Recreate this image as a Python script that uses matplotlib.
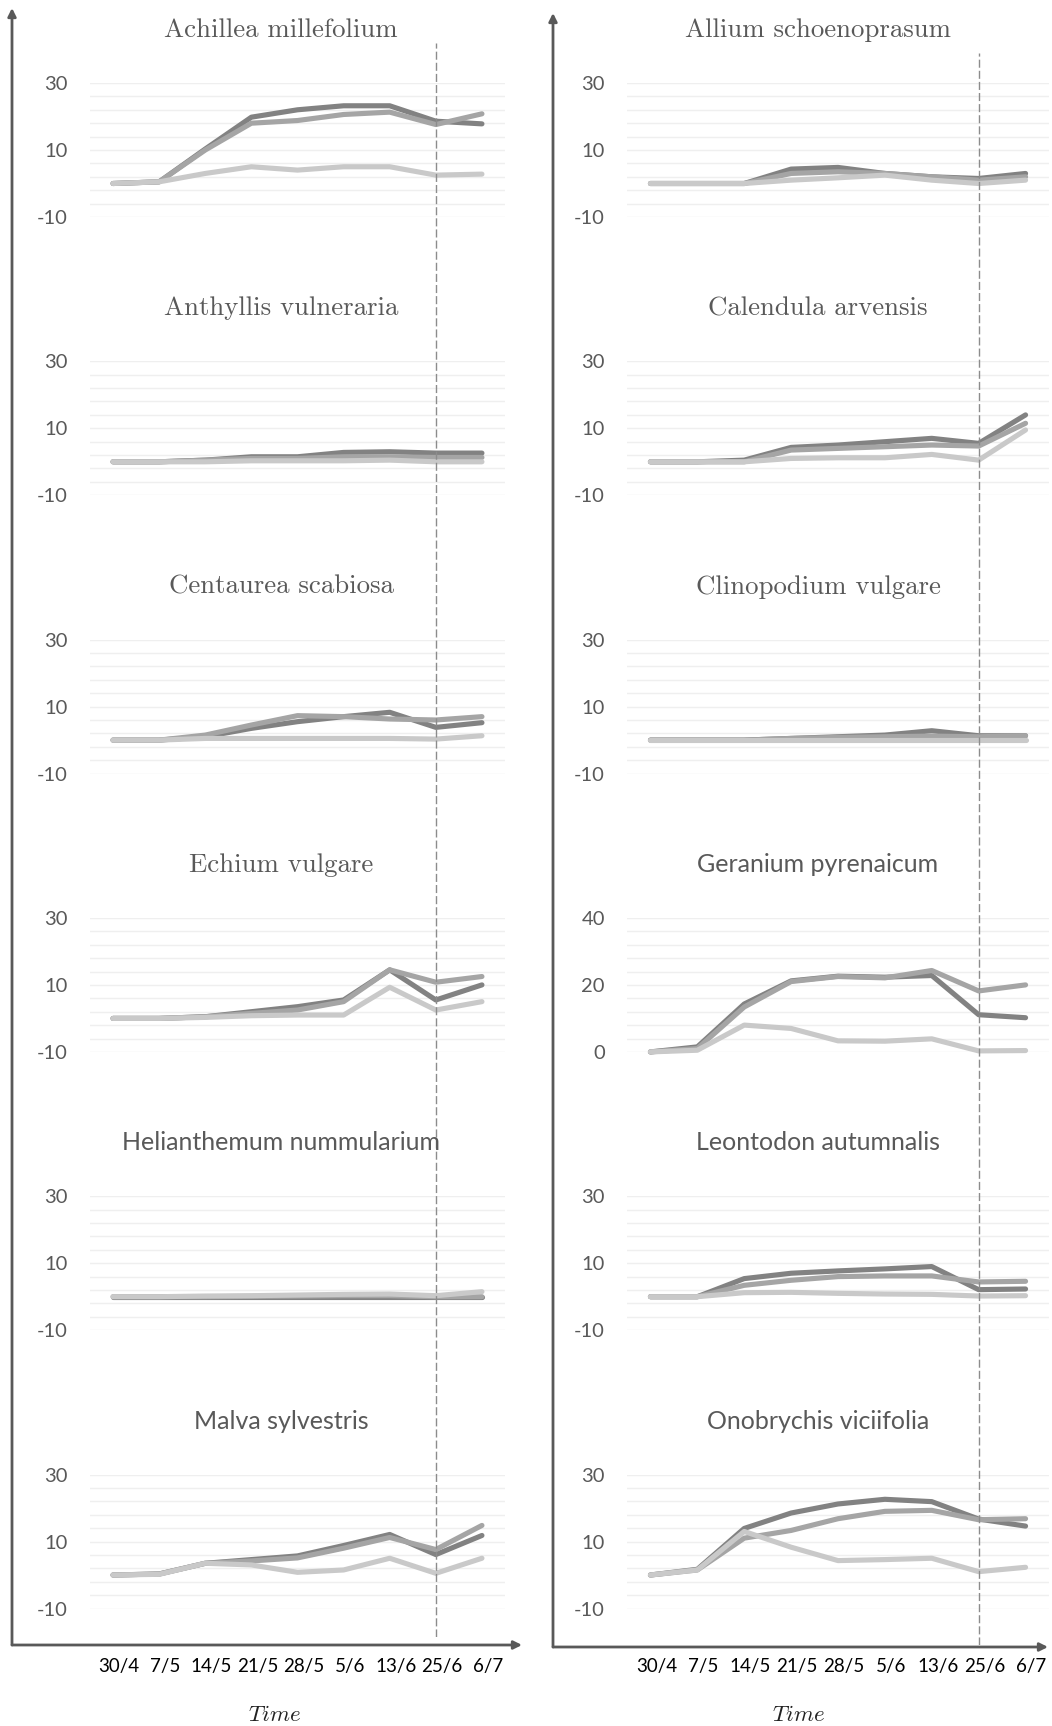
import numpy as np
import matplotlib
matplotlib.use("Agg")
import matplotlib.pyplot as plt
from matplotlib.transforms import ScaledTranslation

plt.rcParams["mathtext.fontset"] = "cm"

# ---------------------------------------------------------------------------
# Data. Each species: [dark, medium, light] series
# ---------------------------------------------------------------------------
dates = ["30/4", "7/5", "14/5", "21/5", "28/5", "5/6", "13/6", "25/6", "6/7"]

achillea = [[0, 0.5, 10.3, 19.8, 22, 23.2, 23.2, 18.6, 17.8],
            [0, 0.5, 10, 18, 18.8, 20.6, 21.3, 17.6, 20.8],
            [0, 0.5, 3, 5, 4, 5, 5, 2.5, 2.8]]
allium = [[0, 0, 0, 4.3, 4.8, 3, 2, 1.5, 3],
          [0, 0, 0, 3, 3.5, 3, 2, 1, 2],
          [0, 0, 0, 1, 1.7, 2.5, 1, 0, 1]]
anthyllis = [[0, 0, 0.5, 1.5, 1.5, 2.8, 3, 2.6, 2.6],
             [0, 0, 0.5, 1, 1, 1.5, 1.5, 1.3, 1.3],
             [0, 0, 0, 0.3, 0.3, 0.3, 0.5, 0, 0]]
calendula = [[0, 0, 0.5, 4.3, 5, 6, 7, 5.5, 14],
             [0, 0, 0, 3.5, 4, 4.5, 5, 4.7, 11.5],
             [0, 0, 0, 1, 1.2, 1.2, 2.2, 0.5, 9.5]]
centaurea = [[0, 0, 1, 3.5, 5.5, 7, 8.3, 3.8, 5.2],
             [0, 0, 1.5, 4.5, 7.3, 7, 6.3, 6, 7],
             [0, 0, 0.5, 0.5, 0.5, 0.5, 0.5, 0.3, 1.3]]
clinopodium = [[0, 0, 0, 0.5, 1, 1.5, 2.8, 1.3, 1.3],
               [0, 0, 0, 0.5, 0.8, 1, 1.2, 1, 1.3],
               [0, 0, 0, 0, 0, 0, 0, 0, 0]]
echium = [[0, 0, 0.5, 2, 3.5, 5.5, 14.5, 5.5, 10],
          [0, 0, 0.5, 1.5, 2.5, 5, 14.5, 10.8, 12.5],
          [0, 0, 0.3, 0.8, 1, 1, 9.3, 2.5, 5]]
geranium = [[0, 1.5, 14.3, 21.2, 22.6, 22.3, 22.8, 11.1, 10.2],
            [0, 1, 13.4, 21, 22.5, 22.1, 24.3, 18.2, 20],
            [0, 0.5, 8, 7, 3.3, 3.2, 3.9, 0.3, 0.4]]
helianthemum = [[0, 0, 0, 0, 0, 0, 0, 0, 0],
                [0, 0, 0, 0.1, 0.2, 0.3, 0.3, 0, 0],
                [0, 0, 0.2, 0.3, 0.5, 0.7, 0.8, 0.3, 1.5]]
leontodon = [[0, 0, 5.4, 7, 7.7, 8.3, 9, 2.1, 2.3],
             [0, 0, 3.4, 4.9, 6, 6.2, 6.2, 4.4, 4.6],
             [0, 0, 1.2, 1.3, 1, 0.8, 0.7, 0.2, 0.3]]
malva = [[0, 0.3, 3.5, 4.6, 5.7, 8.8, 12.1, 6.1, 11.8],
         [0, 0.3, 3.5, 4.2, 5.1, 8, 11.2, 7.6, 14.8],
         [0, 0.2, 3.5, 3, 0.8, 1.5, 5, 0.5, 5]]
onobrychis = [[0, 1.7, 13.9, 18.5, 21.2, 22.6, 21.9, 16.7, 14.6],
              [0, 1.5, 11, 13.3, 16.8, 19, 19.3, 16.5, 16.8],
              [0, 1.5, 13, 8.3, 4.3, 4.6, 5, 1, 2.3]]

left_species = ["Achillea millefolium", "Anthyllis vulneraria", "Centaurea scabiosa",
                "Echium vulgare", "Helianthemum nummularium", "Malva sylvestris"]
right_species = ["Allium schoenoprasum", "Calendula arvensis", "Clinopodium vulgare",
                 "Geranium pyrenaicum", "Leontodon autumnalis", "Onobrychis viciifolia"]
left_data = [achillea, anthyllis, centaurea, echium, helianthemum, malva]
right_data = [allium, calendula, clinopodium, geranium, leontodon, onobrychis]
serif_titles = {"Achillea millefolium", "Allium schoenoprasum", "Anthyllis vulneraria",
                "Calendula arvensis", "Centaurea scabiosa", "Clinopodium vulgare",
                "Echium vulgare"}
wide_range = {"Geranium pyrenaicum"}

# ---------------------------------------------------------------------------
# Layout (pixels of a 1052x1726 canvas)
# ---------------------------------------------------------------------------
W, H = 1052, 1726
SERIES_COLORS = ["#828282", "#a5a5a5", "#c9c9c9"]
TEXT_GREY = "#595959"
SANS = ["Lato", "DejaVu Sans"]


def fx(px):
    return px / W


def fy(py):
    return 1 - py / H


fig = plt.figure(figsize=(W / 100, H / 100), dpi=100)
label_shift = ScaledTranslation(6 / 100, 0, fig.dpi_scale_trans)

columns = [
    dict(x0=90, x1=505, species=left_species, data=left_data, title_x=281,
         vline=(43, 1637), axis_x=12, axis_top=8, axis_right=522, axis_y=1645, time_x=275),
    dict(x0=627, x1=1049, species=right_species, data=right_data, title_x=818,
         vline=(53, 1645), axis_x=553, axis_top=13, axis_right=1048, axis_y=1647, time_x=799),
]

ROW_TOP, ROW_PITCH, ROW_H = 83, 278.3, 134
x = np.arange(len(dates))

for col in columns:
    for r, (name, series) in enumerate(zip(col["species"], col["data"])):
        top = ROW_TOP + ROW_PITCH * r
        ax = fig.add_axes([fx(col["x0"]), fy(top + ROW_H),
                           fx(col["x1"]) - fx(col["x0"]), ROW_H / H])
        if name in wide_range:
            lo, hi, major = 0, 40, [40, 20, 0]
        else:
            lo, hi, major = -10, 30, [30, 10, -10]
        ax.set_ylim(lo, hi)
        ax.set_xlim(-0.5, len(dates) - 0.5)
        for g in np.arange(lo, hi + 1, 4):
            ax.axhline(g, color="#efefef", lw=1.0, zorder=0)
        for s, c in zip(series, SERIES_COLORS):
            ax.plot(x, s, color=c, lw=3.7, solid_capstyle="round",
                    solid_joinstyle="round", clip_on=False, zorder=2)
        ax.set_yticks(major)
        ax.set_yticklabels([str(v) for v in major], family=SANS, fontsize=14.5,
                           color=TEXT_GREY)
        ax.tick_params(axis="y", length=0, pad=16)
        if r == len(col["species"]) - 1:
            ax.set_xticks(x)
            ax.set_xticklabels(dates, family=SANS, fontsize=13.5, color="#000000")
            ax.tick_params(axis="x", length=0, pad=35.5)
            for lab in ax.get_xticklabels():
                lab.set_transform(lab.get_transform() + label_shift)
        else:
            ax.set_xticks([])
        for sp in ax.spines.values():
            sp.set_visible(False)
        ax.patch.set_alpha(0)

        if name in serif_titles:
            fig.text(fx(col["title_x"]), fy(top - 46), name, family="cmr10",
                     fontsize=19.3, color=TEXT_GREY, ha="center", va="baseline")
        else:
            fig.text(fx(col["title_x"]), fy(top - 46), name, family=SANS,
                     fontsize=18, color=TEXT_GREY, ha="center", va="baseline")

    # dashed marker line through the whole column at 25/6
    v0, v1 = col["vline"]
    axv = fig.add_axes([fx(col["x0"]), fy(v1), fx(col["x1"]) - fx(col["x0"]), (v1 - v0) / H])
    axv.set_xlim(-0.5, len(dates) - 0.5)
    axv.axis("off")
    axv.axvline(dates.index("25/6"), color="#8c8c8c", lw=1.0, dashes=(5.8, 2.2))

    fig.text(fx(col["time_x"]), fy(1721), r"$Time$", fontsize=16.5, color="#222222",
             ha="center", va="baseline")

# column arrows
over = fig.add_axes([0, 0, 1, 1])
over.set_xlim(0, W)
over.set_ylim(H, 0)
over.axis("off")
for col in columns:
    ax_x, ax_y = col["axis_x"], col["axis_y"]
    arrow = dict(arrowstyle="-|>", color=TEXT_GREY, lw=2.0, mutation_scale=12,
                 shrinkA=0, shrinkB=0)
    over.annotate("", xy=(ax_x, col["axis_top"]), xytext=(ax_x, ax_y), arrowprops=arrow)
    over.annotate("", xy=(col["axis_right"], ax_y), xytext=(ax_x, ax_y), arrowprops=arrow)

fig.savefig("out.png", dpi=100)
